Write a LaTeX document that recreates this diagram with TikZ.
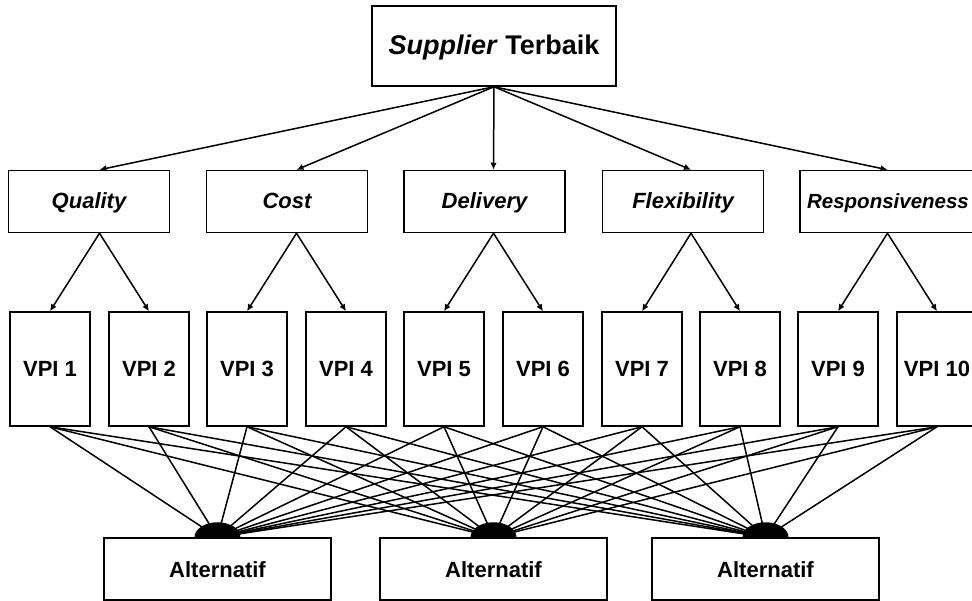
\documentclass[tikz,border=0pt]{standalone}
\usepackage{fontspec}
\setmainfont{Liberation Sans}
\usetikzlibrary{arrows.meta}
\usetikzlibrary{calc}

\begin{document}
\begin{tikzpicture}[x=1pt, y=-1pt, line width=1.5pt, >={Latex[length=7pt,width=6.5pt]},
	box/.style={draw, fill=white, inner sep=0pt, text height=18pt, text depth=2pt, font=\fontsize{22}{26}\selectfont\bfseries},
	goal/.style={box, minimum width=244pt, minimum height=80pt, text height=20pt, font=\fontsize{27}{31}\selectfont\bfseries},
	crit/.style={box, minimum width=161pt, minimum height=62pt, text height=16pt, font=\fontsize{22}{26}\selectfont\bfseries\itshape},
	vpi/.style={box, minimum width=80pt, minimum height=114pt},
	alt/.style={box, minimum width=227pt, minimum height=62pt}]
\useasboundingbox (0,0) rectangle (972,601);

\node[goal] (goal) at (494,46) {\textit{Supplier} Terbaik};

\node[crit] (quality) at (89,201.5) {Quality};
\node[crit] (cost) at (287,201.5) {Cost};
\node[crit] (delivery) at (484.5,201.5) {Delivery};
\node[crit] (flexibility) at (683,201.5) {Flexibility};
\node[crit, minimum width=176pt, font=\fontsize{20.5}{24}\selectfont\bfseries\itshape] (responsiveness) at (888,201.5) {Responsiveness};

\node[vpi] (vpi1) at (50,369) {VPI 1};
\node[vpi] (vpi2) at (149,369) {VPI 2};
\node[vpi] (vpi3) at (247,369) {VPI 3};
\node[vpi] (vpi4) at (346,369) {VPI 4};
\node[vpi] (vpi5) at (444,369) {VPI 5};
\node[vpi] (vpi6) at (543,369) {VPI 6};
\node[vpi] (vpi7) at (642,369) {VPI 7};
\node[vpi] (vpi8) at (740,369) {VPI 8};
\node[vpi] (vpi9) at (838,369) {VPI 9};
\node[vpi] (vpi10) at (937,369) {VPI 10};

\node[alt] (alt1) at (217.5,569) {Alternatif};
\node[alt] (alt2) at (493.5,569) {Alternatif};
\node[alt] (alt3) at (765.5,569) {Alternatif};

\coordinate (m1) at ($(vpi1)!0.5!(vpi2)$);
\coordinate (m2) at ($(vpi3)!0.5!(vpi4)$);
\coordinate (m3) at ($(vpi5)!0.5!(vpi6)$);
\coordinate (m4) at ($(vpi7)!0.5!(vpi8)$);
\coordinate (m5) at ($(vpi9)!0.5!(vpi10)$);

\path[->]
(goal.south) edge (quality.north -| m1)
(goal.south) edge (cost.north -| m2)
(goal.south) edge (delivery.north -| m3)
(goal.south) edge (flexibility.north -| m4)
(goal.south) edge (responsiveness.north -| m5)
;
\path[->]
(quality.south -| m1) edge (vpi1.north)
(quality.south -| m1) edge (vpi2.north)
(cost.south -| m2) edge (vpi3.north)
(cost.south -| m2) edge (vpi4.north)
(delivery.south -| m3) edge (vpi5.north)
(delivery.south -| m3) edge (vpi6.north)
(flexibility.south -| m4) edge (vpi7.north)
(flexibility.south -| m4) edge (vpi8.north)
(responsiveness.south -| m5) edge (vpi9.north)
(responsiveness.south -| m5) edge (vpi10.north)
;

\foreach \i in {1,...,10}
	\foreach \j in {1,2,3}
		\draw (vpi\i.south) -- (alt\j.north);

\foreach \j in {1,2,3}
	\fill (alt\j.north) ++(-23pt,0pt) arc[start angle=180, end angle=0, x radius=23pt, y radius=15pt] -- cycle;
\end{tikzpicture}
\end{document}
